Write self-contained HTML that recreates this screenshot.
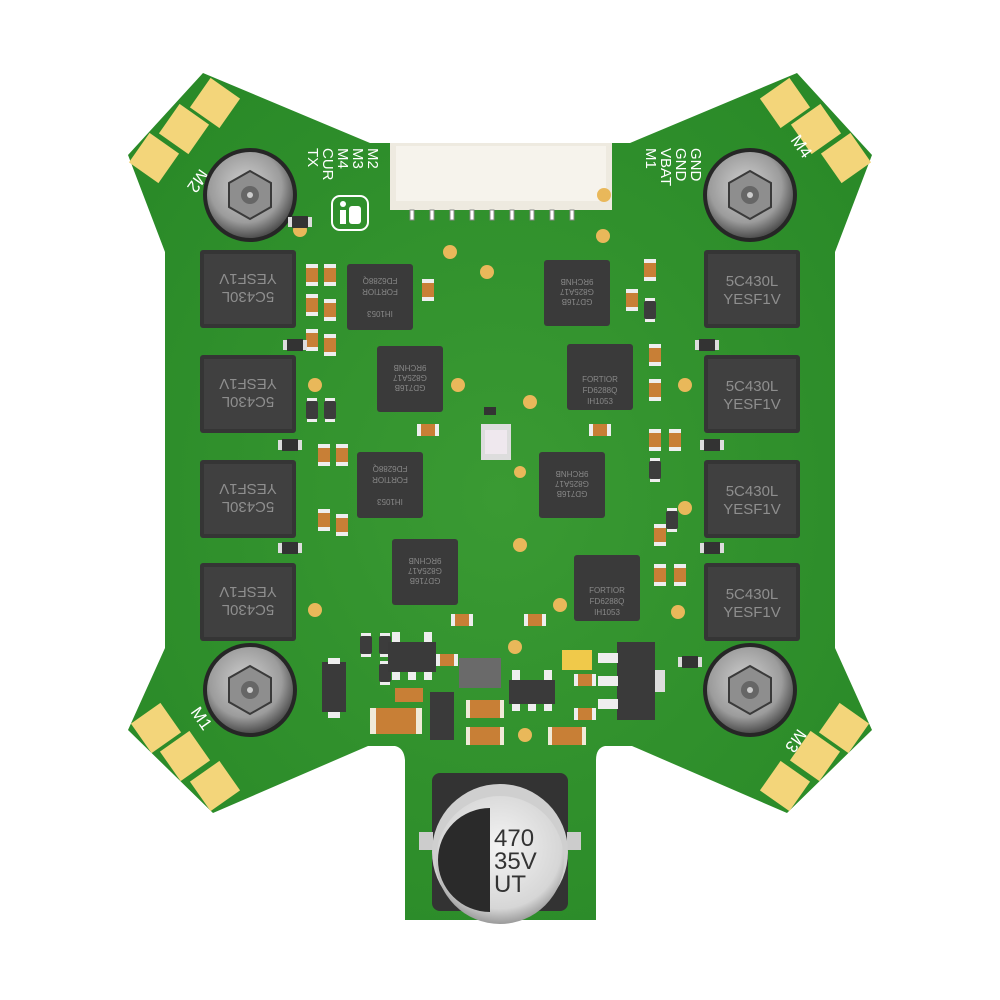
<!DOCTYPE html>
<html><head><meta charset="utf-8"><style>
html,body{margin:0;padding:0;background:#fff}
svg{display:block}
text{font-family:"Liberation Sans",sans-serif}
</style></head><body>
<svg width="1000" height="1000" viewBox="0 0 1000 1000" xmlns="http://www.w3.org/2000/svg">
<defs>
<radialGradient id="scr" cx="0.45" cy="0.4" r="0.6">
<stop offset="0" stop-color="#d0d0d0"/><stop offset="0.7" stop-color="#9c9c9c"/><stop offset="1" stop-color="#505050"/>
</radialGradient>
<radialGradient id="cap" cx="0.5" cy="0.4" r="0.6">
<stop offset="0" stop-color="#f4f4f4"/><stop offset="0.8" stop-color="#d6d6d6"/><stop offset="1" stop-color="#9a9a9a"/>
</radialGradient>
<radialGradient id="brd" cx="0.5" cy="0.5" r="0.6">
<stop offset="0" stop-color="#3a9a33"/><stop offset="1" stop-color="#2a8a28"/>
</radialGradient>
<g id="screw">
<circle r="47" fill="#262626"/>
<circle r="43" fill="url(#scr)"/>
<polygon points="0,-24 21,-12 21,12 0,24 -21,12 -21,-12" fill="#8e8e8e" stroke="#3a3a3a" stroke-width="2"/>
<circle r="9" fill="#666"/><circle r="3" fill="#ccc"/>
</g>
<g id="pad"><rect x="-18" y="-18" width="36" height="36" fill="#f3d57a"/></g>
<g id="mos"><rect x="-48" y="-39" width="96" height="78" rx="3" fill="#353535"/><rect x="-44" y="-35" width="88" height="70" fill="#404040"/></g>
<g id="chip"><rect x="-33" y="-33" width="66" height="66" rx="3" fill="#3a3a3a"/></g>
<g id="res"><rect x="-11" y="-6" width="22" height="12" fill="#eee"/><rect x="-7" y="-6" width="14" height="12" fill="#c87f36"/></g>
<g id="resv"><rect x="-6" y="-11" width="12" height="22" fill="#eee"/><rect x="-6" y="-7" width="12" height="14" fill="#c87f36"/></g>
<g id="dio"><rect x="-5" y="-12" width="10" height="24" fill="#eee"/><rect x="-6" y="-9" width="12" height="18" rx="2" fill="#3c3c3c"/></g>
<g id="smd"><rect x="-12" y="-5" width="24" height="10" fill="#ddd"/><rect x="-8" y="-6" width="16" height="12" fill="#333"/></g>
</defs>

<path d="M203,73 L370,143 L630,143 L797,73 L872,155 L835,252 L835,648 L872,730 L787,813 L632,746 L605,746 Q596,748 596,760 L596,920 L405,920 L405,760 Q404,748 395,746 L368,746 L213,813 L128,730 L165,648 L165,252 L128,155 Z" fill="url(#brd)"/>

<g transform="translate(215,103) rotate(35)"><use href="#pad"/></g>
<g transform="translate(184,129) rotate(35)"><use href="#pad"/></g>
<g transform="translate(154,158) rotate(35)"><use href="#pad"/></g>
<g transform="translate(785,103) rotate(-35)"><use href="#pad"/></g>
<g transform="translate(816,129) rotate(-35)"><use href="#pad"/></g>
<g transform="translate(846,158) rotate(-35)"><use href="#pad"/></g>
<g transform="translate(156,728) rotate(-35)"><use href="#pad"/></g>
<g transform="translate(185,756) rotate(-35)"><use href="#pad"/></g>
<g transform="translate(215,786) rotate(-35)"><use href="#pad"/></g>
<g transform="translate(844,728) rotate(35)"><use href="#pad"/></g>
<g transform="translate(815,756) rotate(35)"><use href="#pad"/></g>
<g transform="translate(785,786) rotate(35)"><use href="#pad"/></g>

<text x="0" y="0" font-size="17" fill="#fff" transform="translate(200,168) rotate(125)">M2</text>
<text x="0" y="0" font-size="17" fill="#fff" transform="translate(790,140) rotate(55)">M4</text>
<text x="0" y="0" font-size="17" fill="#fff" transform="translate(190,712) rotate(55)">M1</text>
<text x="0" y="0" font-size="17" fill="#fff" transform="translate(798,728) rotate(125)">M3</text>

<use href="#screw" x="250" y="195"/>
<use href="#screw" x="750" y="195"/>
<use href="#screw" x="250" y="690"/>
<use href="#screw" x="750" y="690"/>

<rect x="390" y="143" width="222" height="67" fill="#eeeae0"/>
<rect x="396" y="146" width="210" height="55" fill="#f6f3ec"/>
<g fill="#fff" stroke="#888" stroke-width="1">
<rect x="410" y="210" width="4" height="10"/><rect x="430" y="210" width="4" height="10"/><rect x="450" y="210" width="4" height="10"/><rect x="470" y="210" width="4" height="10"/><rect x="490" y="210" width="4" height="10"/><rect x="510" y="210" width="4" height="10"/><rect x="530" y="210" width="4" height="10"/><rect x="550" y="210" width="4" height="10"/><rect x="570" y="210" width="4" height="10"/>
</g>

<g font-size="15" fill="#fff">
<text transform="translate(368,148) rotate(90)">M2</text>
<text transform="translate(353,148) rotate(90)">M3</text>
<text transform="translate(338,148) rotate(90)">M4</text>
<text transform="translate(323,148) rotate(90)">CUR</text>
<text transform="translate(308,148) rotate(90)">TX</text>
<text transform="translate(691,148) rotate(90)">GND</text>
<text transform="translate(676,148) rotate(90)">GND</text>
<text transform="translate(661,148) rotate(90)">VBAT</text>
<text transform="translate(646,148) rotate(90)">M1</text>
</g>
<rect x="332" y="196" width="36" height="34" rx="8" fill="none" stroke="#fff" stroke-width="2"/>
<rect x="340" y="210" width="6" height="14" fill="#fff"/><circle cx="343" cy="204" r="3" fill="#fff"/>
<rect x="349" y="206" width="12" height="18" rx="3" fill="#fff"/>

<g>
<use href="#mos" x="248" y="289"/><use href="#mos" x="248" y="394"/><use href="#mos" x="248" y="499"/><use href="#mos" x="248" y="602"/>
<use href="#mos" x="752" y="289"/><use href="#mos" x="752" y="394"/><use href="#mos" x="752" y="499"/><use href="#mos" x="752" y="602"/>
</g>
<g font-size="15" fill="#8e8e8e" text-anchor="middle">
<g transform="translate(248,289) rotate(180)"><text y="-3">5C430L</text><text y="15">YESF1V</text></g>
<g transform="translate(248,394) rotate(180)"><text y="-3">5C430L</text><text y="15">YESF1V</text></g>
<g transform="translate(248,499) rotate(180)"><text y="-3">5C430L</text><text y="15">YESF1V</text></g>
<g transform="translate(248,602) rotate(180)"><text y="-3">5C430L</text><text y="15">YESF1V</text></g>
<text x="752" y="286">5C430L</text><text x="752" y="304">YESF1V</text>
<text x="752" y="391">5C430L</text><text x="752" y="409">YESF1V</text>
<text x="752" y="496">5C430L</text><text x="752" y="514">YESF1V</text>
<text x="752" y="599">5C430L</text><text x="752" y="617">YESF1V</text>
</g>

<use href="#chip" x="380" y="297"/>
<use href="#chip" x="577" y="293"/>
<use href="#chip" x="410" y="379"/>
<use href="#chip" x="600" y="377"/>
<use href="#chip" x="390" y="485"/>
<use href="#chip" x="572" y="485"/>
<use href="#chip" x="425" y="572"/>
<use href="#chip" x="607" y="588"/>
<g font-size="8" fill="#888" text-anchor="middle">
<text x="600" y="382">FORTIOR</text><text x="600" y="393">FD6288Q</text><text x="600" y="404">IH1053</text>
<text x="607" y="593">FORTIOR</text><text x="607" y="604">FD6288Q</text><text x="607" y="615">IH1053</text>
<g transform="translate(380,297) rotate(180)"><text y="8">FORTIOR</text><text y="19">FD6288Q</text><text y="-14">IH1053</text></g>
<g transform="translate(390,485) rotate(180)"><text y="8">FORTIOR</text><text y="19">FD6288Q</text><text y="-14">IH1053</text></g>
<g transform="translate(577,293) rotate(180)"><text y="-6">GD716B</text><text y="4">G825A17</text><text y="14">9RCHNB</text></g>
<g transform="translate(410,379) rotate(180)"><text y="-6">GD716B</text><text y="4">G825A17</text><text y="14">9RCHNB</text></g>
<g transform="translate(572,485) rotate(180)"><text y="-6">GD716B</text><text y="4">G825A17</text><text y="14">9RCHNB</text></g>
<g transform="translate(425,572) rotate(180)"><text y="-6">GD716B</text><text y="4">G825A17</text><text y="14">9RCHNB</text></g>
</g>

<rect x="481" y="424" width="30" height="36" fill="#ddd"/>
<rect x="485" y="430" width="22" height="24" fill="#efe8ee"/>
<rect x="484" y="407" width="12" height="8" fill="#333"/>

<g fill="#e9b85a">
<circle cx="300" cy="230" r="7"/><circle cx="604" cy="195" r="7"/><circle cx="603" cy="236" r="7"/>
<circle cx="450" cy="252" r="7"/><circle cx="487" cy="272" r="7"/><circle cx="315" cy="385" r="7"/>
<circle cx="458" cy="385" r="7"/><circle cx="530" cy="402" r="7"/><circle cx="685" cy="385" r="7"/>
<circle cx="315" cy="610" r="7"/><circle cx="685" cy="508" r="7"/><circle cx="520" cy="545" r="7"/>
<circle cx="560" cy="605" r="7"/><circle cx="678" cy="612" r="7"/><circle cx="520" cy="472" r="6"/>
<circle cx="515" cy="647" r="7"/><circle cx="525" cy="735" r="7"/>
</g>

<g>
<use href="#resv" x="312" y="275"/><use href="#resv" x="330" y="275"/><use href="#resv" x="312" y="305"/><use href="#resv" x="330" y="310"/>
<use href="#resv" x="330" y="345"/><use href="#resv" x="312" y="340"/><use href="#resv" x="324" y="455"/><use href="#resv" x="342" y="455"/>
<use href="#resv" x="324" y="520"/><use href="#resv" x="342" y="525"/><use href="#resv" x="650" y="270"/><use href="#resv" x="632" y="300"/>
<use href="#resv" x="655" y="355"/><use href="#resv" x="655" y="390"/><use href="#resv" x="675" y="440"/><use href="#resv" x="655" y="440"/>
<use href="#resv" x="660" y="535"/><use href="#resv" x="660" y="575"/><use href="#resv" x="680" y="575"/><use href="#resv" x="428" y="290"/>
<use href="#res" x="428" y="430"/><use href="#res" x="600" y="430"/><use href="#res" x="462" y="620"/><use href="#res" x="535" y="620"/>
<use href="#smd" x="295" y="345"/><use href="#smd" x="290" y="445"/><use href="#smd" x="290" y="548"/><use href="#smd" x="707" y="345"/>
<use href="#smd" x="712" y="445"/><use href="#smd" x="712" y="548"/><use href="#smd" x="300" y="222"/>
<use href="#dio" x="312" y="410"/><use href="#dio" x="330" y="410"/><use href="#dio" x="650" y="310"/><use href="#dio" x="655" y="470"/>
<use href="#dio" x="672" y="520"/><use href="#dio" x="366" y="645"/><use href="#dio" x="385" y="645"/><use href="#dio" x="385" y="673"/>
</g>

<rect x="322" y="662" width="24" height="50" fill="#3a3a3a"/><rect x="328" y="658" width="12" height="6" fill="#eee"/><rect x="328" y="712" width="12" height="6" fill="#eee"/>
<rect x="388" y="642" width="48" height="30" fill="#3a3a3a"/>
<rect x="392" y="632" width="8" height="10" fill="#eee"/><rect x="424" y="632" width="8" height="10" fill="#eee"/>
<rect x="392" y="672" width="8" height="8" fill="#eee"/><rect x="408" y="672" width="8" height="8" fill="#eee"/><rect x="424" y="672" width="8" height="8" fill="#eee"/>
<use href="#res" x="447" y="660"/>
<rect x="459" y="658" width="42" height="30" fill="#6a6a6a"/>
<rect x="395" y="688" width="28" height="14" fill="#c87f36"/>
<rect x="370" y="708" width="52" height="26" fill="#f0ead8"/><rect x="376" y="708" width="40" height="26" fill="#c87f36"/>
<rect x="430" y="692" width="24" height="48" fill="#3a3a3a"/>
<rect x="466" y="700" width="38" height="18" fill="#f0ead8"/><rect x="470" y="700" width="30" height="18" fill="#c87f36"/>
<rect x="466" y="727" width="38" height="18" fill="#f0ead8"/><rect x="470" y="727" width="30" height="18" fill="#c87f36"/>
<rect x="509" y="680" width="46" height="24" fill="#3a3a3a"/>
<rect x="512" y="670" width="8" height="10" fill="#eee"/><rect x="544" y="670" width="8" height="10" fill="#eee"/>
<rect x="512" y="704" width="8" height="7" fill="#eee"/><rect x="528" y="704" width="8" height="7" fill="#eee"/><rect x="544" y="704" width="8" height="7" fill="#eee"/>
<rect x="548" y="727" width="38" height="18" fill="#f0ead8"/><rect x="552" y="727" width="30" height="18" fill="#c87f36"/>
<rect x="562" y="650" width="30" height="20" fill="#f0c94a"/>
<use href="#res" x="585" y="680"/><use href="#res" x="585" y="714"/>
<rect x="617" y="642" width="38" height="78" fill="#3a3a3a"/>
<rect x="598" y="653" width="20" height="10" fill="#eee"/><rect x="598" y="676" width="20" height="10" fill="#eee"/><rect x="598" y="699" width="20" height="10" fill="#eee"/>
<rect x="655" y="670" width="10" height="22" fill="#ddd"/>
<use href="#smd" x="690" y="662"/>

<rect x="432" y="773" width="136" height="138" rx="8" fill="#333"/>
<rect x="419" y="832" width="14" height="18" fill="#ccc"/><rect x="567" y="832" width="14" height="18" fill="#ccc"/>
<circle cx="500" cy="852" r="68" fill="#cfcfcf"/>
<circle cx="500" cy="860" r="64" fill="url(#cap)"/>
<path d="M490,808 A52,52 0 0 0 490,912 Z" fill="#2a2a2a"/>
<g font-size="24" fill="#333"><text x="494" y="846">470</text><text x="494" y="869">35V</text><text x="494" y="892">UT</text></g>
</svg>
</body></html>
